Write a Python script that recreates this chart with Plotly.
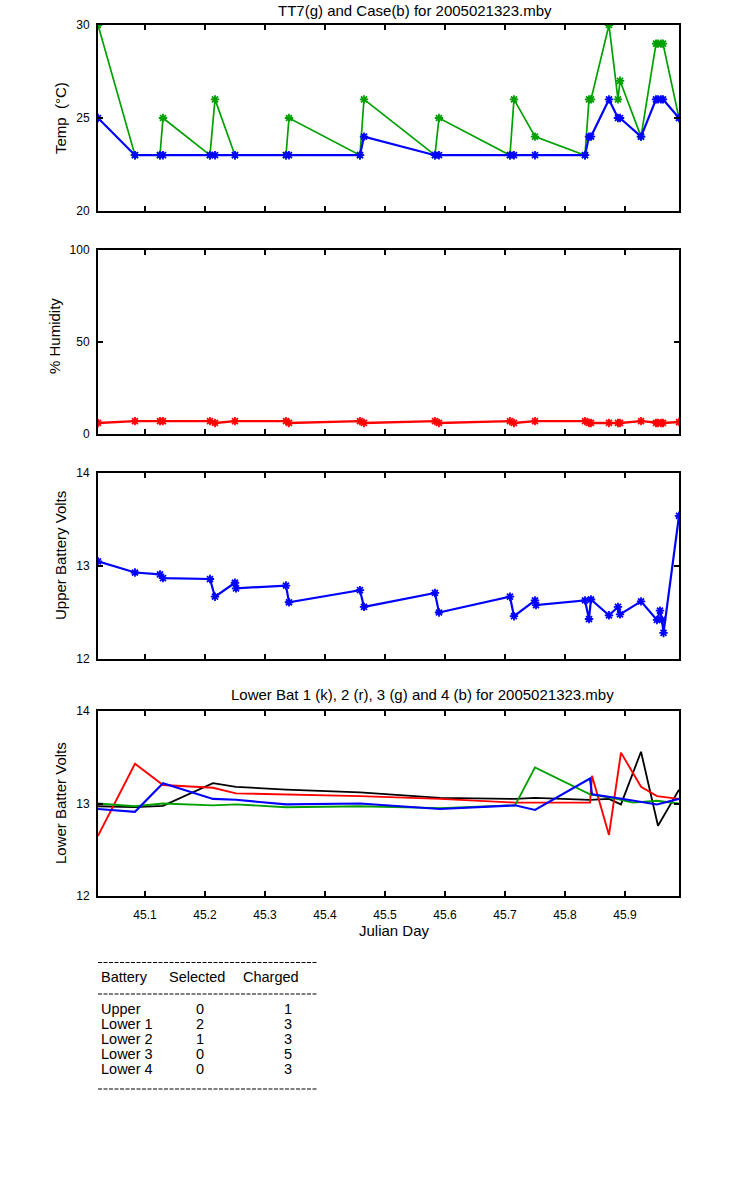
import plotly.graph_objects as go

# ---------------- data ----------------
t_temp = [45.0217, 45.0833, 45.125, 45.13, 45.2083, 45.2167, 45.25, 45.335, 45.34,
          45.4583, 45.465, 45.5833, 45.59, 45.7083, 45.715, 45.75, 45.8333, 45.84,
          45.8433, 45.8733, 45.8883, 45.8917, 45.9267, 45.9517, 45.955, 45.96,
          45.9633, 45.99]
tt7 = [30, 23, 23, 25, 23, 26, 23, 23, 25, 23, 26, 23, 25, 23, 26, 24, 23, 26, 26,
       30, 26, 27, 24, 29, 29, 29, 29, 25]
case_t = [25, 23, 23, 23, 23, 23, 23, 23, 23, 23, 24, 23, 23, 23, 23, 23, 23, 24, 24,
          26, 25, 25, 24, 26, 26, 26, 26, 25]
humidity = [6, 7, 7, 7, 7, 6, 7, 7, 6, 7, 6, 7, 6, 7, 6, 7, 7, 6, 6, 6, 6, 6, 7, 6,
            6, 6, 6, 6.5]

t_upper = [45.0217, 45.0833, 45.125, 45.13, 45.2083, 45.2167, 45.25, 45.2517, 45.335,
           45.34, 45.4583, 45.465, 45.5833, 45.59, 45.7083, 45.715, 45.75, 45.7517,
           45.8333, 45.84, 45.8433, 45.8733, 45.8883, 45.8917, 45.9267, 45.9533,
           45.9583, 45.9617, 45.9642, 45.99]
upper_volts = [13.05, 12.93, 12.91, 12.87, 12.86, 12.67, 12.82, 12.76, 12.79, 12.61,
               12.74, 12.56, 12.71, 12.50, 12.67, 12.46, 12.63, 12.58, 12.63, 12.43,
               12.64, 12.47, 12.56, 12.48, 12.62, 12.42, 12.52, 12.42, 12.28, 13.54]

t_bat1 = [45.0217, 45.0833, 45.13, 45.2133, 45.2517, 45.335, 45.4583, 45.5917, 45.7167,
          45.75, 45.8417, 45.8733, 45.8933, 45.9267, 45.955, 45.99]
bat1 = [12.97, 12.96, 12.975, 13.22, 13.18, 13.15, 13.12, 13.06, 13.05, 13.06, 13.04,
        13.05, 12.99, 13.56, 12.76, 13.15]
t_bat2 = [45.0217, 45.0833, 45.13, 45.2133, 45.2517, 45.335, 45.4583, 45.5917, 45.7167,
          45.8417, 45.845, 45.8733, 45.8933, 45.9267, 45.9533, 45.99]
bat2 = [12.65, 13.43, 13.20, 13.17, 13.11, 13.10, 13.08, 13.05, 13.01, 13.01, 13.30,
        12.66, 13.55, 13.18, 13.08, 13.05]
t_bat3 = [45.0217, 45.0833, 45.13, 45.2133, 45.2517, 45.335, 45.4583, 45.5917, 45.7167,
          45.75, 45.8417, 45.88, 45.9133, 45.9533, 45.99]
bat3 = [13.00, 12.97, 13.00, 12.98, 12.99, 12.96, 12.97, 12.95, 12.98, 13.39, 13.10,
        13.06, 13.01, 13.03, 13.00]
t_bat4 = [45.0217, 45.0833, 45.13, 45.2133, 45.2517, 45.335, 45.4583, 45.5917, 45.7167,
          45.75, 45.8417, 45.845, 45.8867, 45.9533, 45.99]
bat4 = [12.94, 12.91, 13.22, 13.05, 13.04, 12.99, 13.00, 12.94, 12.98, 12.93, 13.27,
        13.10, 13.06, 12.99, 13.05]

x_ticks = [45.1, 45.2, 45.3, 45.4, 45.5, 45.6, 45.7, 45.8, 45.9]
x_tick_labels = ["45.1", "45.2", "45.3", "45.4", "45.5", "45.6", "45.7", "45.8", "45.9"]

batteries = ["Upper", "Lower 1", "Lower 2", "Lower 3", "Lower 4"]
selected = [0, 2, 1, 0, 0]
charged = [1, 3, 3, 5, 3]

title_top = "TT7(g) and Case(b) for 2005021323.mby"
title_low = "Lower Bat 1 (k), 2 (r), 3 (g) and 4 (b) for 2005021323.mby"

# ---------------- style ----------------
W, H = 750, 1200
FONT = "Liberation Sans, Arial, sans-serif"
GREEN = "#00a000"
BLUE = "#0000ff"
RED = "#ff0000"
BLACK = "#000000"


def px_x(p):
    return p / W


def px_y(p):
    return 1 - p / H


x_dom = [px_x(98), px_x(679)]
panels_px = [(25, 211), (250, 434), (473, 659), (711, 896)]
y_ranges = [[20, 30], [0, 100], [12, 14], [12, 14]]
y_ticks = [[20, 25, 30], [0, 50, 100], [12, 13, 14], [12, 13, 14]]

fig = go.Figure()


def add(x, y, color, axis, width, markers=True):
    kw = {}
    if markers:
        kw["marker"] = dict(symbol="asterisk-open", size=7, color=color,
                            line=dict(color=color, width=1.8))
    fig.add_trace(go.Scatter(x=x, y=y, mode="lines+markers" if markers else "lines",
                             line=dict(color=color, width=width),
                             xaxis="x" + axis, yaxis="y" + axis,
                             showlegend=False, hoverinfo="skip", **kw))


add(t_temp, tt7, GREEN, "", 1.7)
add(t_temp, case_t, BLUE, "", 2.2)
add(t_temp, humidity, RED, "2", 2.4)
add(t_upper, upper_volts, BLUE, "3", 2.2)
add(t_bat1, bat1, BLACK, "4", 1.8, markers=False)
add(t_bat2, bat2, RED, "4", 1.9, markers=False)
add(t_bat3, bat3, GREEN, "4", 1.9, markers=False)
add(t_bat4, bat4, BLUE, "4", 2.1, markers=False)

layout = dict(width=W, height=H, autosize=False,
              margin=dict(l=0, r=0, t=0, b=0, pad=0, autoexpand=False),
              paper_bgcolor="white", plot_bgcolor="white",
              font=dict(family=FONT, size=12, color="black"))

for i, (top, bot) in enumerate(panels_px):
    suffix = "" if i == 0 else str(i + 1)
    xa = dict(domain=x_dom, range=[45.0217, 45.99], tickvals=x_ticks,
              ticktext=x_tick_labels, showticklabels=(i == 3),
              ticks="inside", ticklen=5, tickwidth=2, tickcolor="black",
              showline=True, linewidth=2, linecolor="black", mirror="ticks",
              showgrid=False, zeroline=False, anchor="y" + suffix,
              tickfont=dict(size=12, family=FONT), ticklabelstandoff=7)
    ya = dict(domain=[px_y(bot), px_y(top)], range=y_ranges[i], tickvals=y_ticks[i],
              ticks="inside", ticklen=5, tickwidth=2, tickcolor="black",
              showline=True, linewidth=2, linecolor="black", mirror="ticks",
              showgrid=False, zeroline=False, anchor="x" + suffix,
              tickfont=dict(size=12, family=FONT), ticklabelstandoff=4)
    layout["xaxis" + suffix] = xa
    layout["yaxis" + suffix] = ya

fig.update_layout(**layout)

ann = []


def text(x, y, s, size=15, xanchor="center", angle=0):
    ann.append(dict(x=px_x(x), y=px_y(y), xref="paper", yref="paper", text=s,
                    showarrow=False, xanchor=xanchor, yanchor="middle",
                    textangle=angle, font=dict(family=FONT, size=size, color="black")))


text(415, 11, title_top)
text(423, 694, title_low)
text(394, 930, "Julian Day")
text(60, 118, "Temp \u00a0(°C)", angle=-90)
text(54, 336, "% Humidity", angle=-90)
text(60, 556, "Upper Battery Volts", angle=-90)
text(60, 803, "Lower Batter Volts", angle=-90)

# table
TS = 14.5
text(99, 977, "Battery", size=TS, xanchor="left")
text(167, 977, "Selected", size=TS, xanchor="left")
text(241, 977, "Charged", size=TS, xanchor="left")
for r, (b, s, c) in enumerate(zip(batteries, selected, charged)):
    yy = 1009 + r * 14.9
    text(99, yy, b, size=TS, xanchor="left")
    text(200, yy, str(s), size=TS)
    text(294, yy, str(c), size=TS, xanchor="right")

fig.update_layout(annotations=ann)

shapes = []
for yy in (962.5, 994, 1089):
    shapes.append(dict(type="line", xref="paper", yref="paper", x0=px_x(98), x1=px_x(317),
                       y0=px_y(yy), y1=px_y(yy),
                       line=dict(color="black", width=1, dash="4px,1.5px")))
fig.update_layout(shapes=shapes)

fig.write_html("out.html", config={"displayModeBar": False},
               post_script="document.body.style.margin='0';")
